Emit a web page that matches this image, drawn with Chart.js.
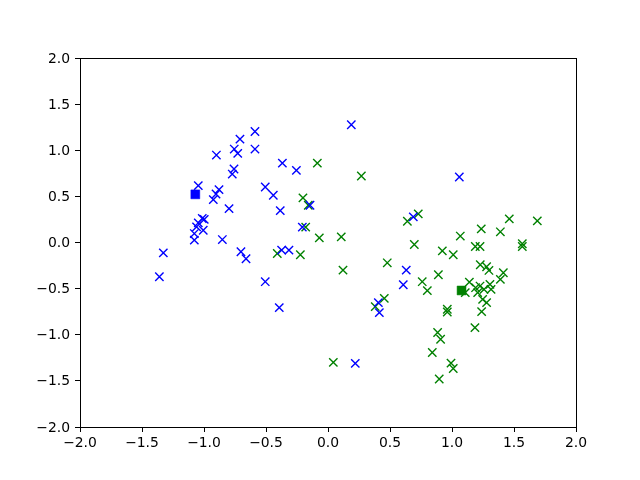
<!DOCTYPE html>
<html>
<head>
<meta charset="utf-8">
<script src="https://cdn.jsdelivr.net/npm/chart.js@4/dist/chart.umd.min.js"></script>
<style>
html,body{margin:0;padding:0;background:#fff;}
#wrap{width:640px;height:480px;}
</style>
</head>
<body>
<div id="wrap"><canvas id="c" width="640" height="480"></canvas></div>
<script>
const xTicks = [-2.0, -1.5, -1.0, -0.5, 0.0, 0.5, 1.0, 1.5, 2.0];
const yTicks = [-2.0, -1.5, -1.0, -0.5, 0.0, 0.5, 1.0, 1.5, 2.0];

const blueX = [-0.589,-0.71,-0.756,-0.728,-0.589,-0.90,-0.368,-0.255,-0.758,-0.772,-1.046,-0.879,-0.903,-0.925,-0.506,-0.441,-0.798,-0.385,-0.145,-1.014,-0.998,-1.046,-1.06,-1.006,-1.078,-1.078,-0.852,-0.207,-1.328,-1.36,-0.702,-0.661,-0.374,-0.315,-0.506,-0.393,0.188,1.059,0.688,0.631,0.607,0.406,0.414,0.22];
const blueY = [1.203,1.12,1.013,0.966,1.013,0.948,0.861,0.782,0.797,0.742,0.616,0.573,0.526,0.465,0.602,0.512,0.368,0.346,0.404,0.26,0.25,0.213,0.17,0.133,0.097,0.025,0.032,0.166,-0.112,-0.371,-0.10,-0.176,-0.083,-0.083,-0.425,-0.706,1.276,0.71,0.278,-0.30,-0.458,-0.652,-0.76,-1.31];

const greenX = [-0.086,-0.202,-0.159,-0.18,-0.07,-0.409,-0.223,0.043,0.269,0.64,0.728,1.462,1.688,0.107,1.067,1.236,1.39,0.696,1.188,1.226,1.567,1.567,0.922,1.01,0.121,0.478,0.89,0.76,0.801,1.14,1.228,1.279,1.298,1.414,1.39,1.19,1.226,1.258,1.306,1.315,1.207,1.247,1.279,1.107,1.239,0.962,0.962,1.185,0.454,0.381,0.884,0.908,0.841,0.992,1.01,0.897];
const greenY = [0.861,0.483,0.404,0.166,0.05,-0.119,-0.133,-1.30,0.721,0.23,0.31,0.256,0.234,0.061,0.07,0.148,0.116,-0.022,-0.043,-0.043,-0.014,-0.043,-0.09,-0.133,-0.30,-0.22,-0.35,-0.425,-0.522,-0.43,-0.241,-0.263,-0.303,-0.328,-0.40,-0.49,-0.472,-0.508,-0.454,-0.508,-0.544,-0.616,-0.652,-0.544,-0.75,-0.724,-0.753,-0.922,-0.605,-0.695,-0.976,-1.049,-1.192,-1.308,-1.366,-1.48];

const blueCenter = [-1.07, 0.522];
const greenCenter = [1.077, -0.52];

function pts(xs, ys){ return xs.map((x,i)=>({x:x, y:ys[i]})); }
function fmt(v){ return v.toFixed(1).replace('-', '\u2212'); }

const frame = {
  id:'frame',
  afterDraw(chart){
    const a = chart.chartArea, ctx = chart.ctx;
    ctx.save();
    ctx.strokeStyle = '#000';
    ctx.lineWidth = 1;
    ctx.strokeRect(Math.round(a.left)+0.5, Math.round(a.top)+0.5, Math.round(a.right-a.left), Math.round(a.bottom-a.top));
    ctx.restore();
  }
};

const font = {family:'"DejaVu Sans", sans-serif', size:13.9};

new Chart(document.getElementById('c'), {
  type:'scatter',
  data:{datasets:[
    {data:pts(greenX, greenY), pointStyle:'crossRot', radius:5.9, borderColor:'#008000', backgroundColor:'#008000', borderWidth:1.4, order:2},
    {data:pts(blueX, blueY), pointStyle:'crossRot', radius:5.9, borderColor:'#0000ff', backgroundColor:'#0000ff', borderWidth:1.4, order:1},
    {data:[{x:blueCenter[0], y:blueCenter[1]}], pointStyle:'rect', radius:6.3, borderColor:'#0000ff', backgroundColor:'#0000ff', borderWidth:0.5, order:0},
    {data:[{x:greenCenter[0], y:greenCenter[1]}], pointStyle:'rect', radius:6.3, borderColor:'#008000', backgroundColor:'#008000', borderWidth:0.5, order:0}
  ]},
  options:{
    responsive:false,
    animation:false,
    events:[],
    layout:{padding:{left:0, top:58, right:64, bottom:0}},
    plugins:{legend:{display:false}, tooltip:{enabled:false}},
    scales:{
      x:{
        type:'linear', min:-2, max:2,
        afterBuildTicks(s){ s.ticks = xTicks.map(v=>({value:v})); },
        afterFit(s){ s.height = 53; },
        grid:{drawOnChartArea:false, drawTicks:true, tickLength:5, color:'#000', lineWidth:1},
        border:{display:true, color:'#000', width:1},
        ticks:{color:'#000', font:font, padding:3, maxRotation:0, autoSkip:false, callback:(v)=>fmt(v)}
      },
      y:{
        type:'linear', min:-2, max:2,
        afterBuildTicks(s){ s.ticks = yTicks.map(v=>({value:v})); },
        afterFit(s){ s.width = 80; },
        grid:{drawOnChartArea:false, drawTicks:true, tickLength:5, color:'#000', lineWidth:1},
        border:{display:true, color:'#000', width:1},
        ticks:{color:'#000', font:font, padding:5, labelOffset:1, autoSkip:false, callback:(v)=>fmt(v)}
      }
    }
  },
  plugins:[frame]
});
</script>
</body>
</html>
